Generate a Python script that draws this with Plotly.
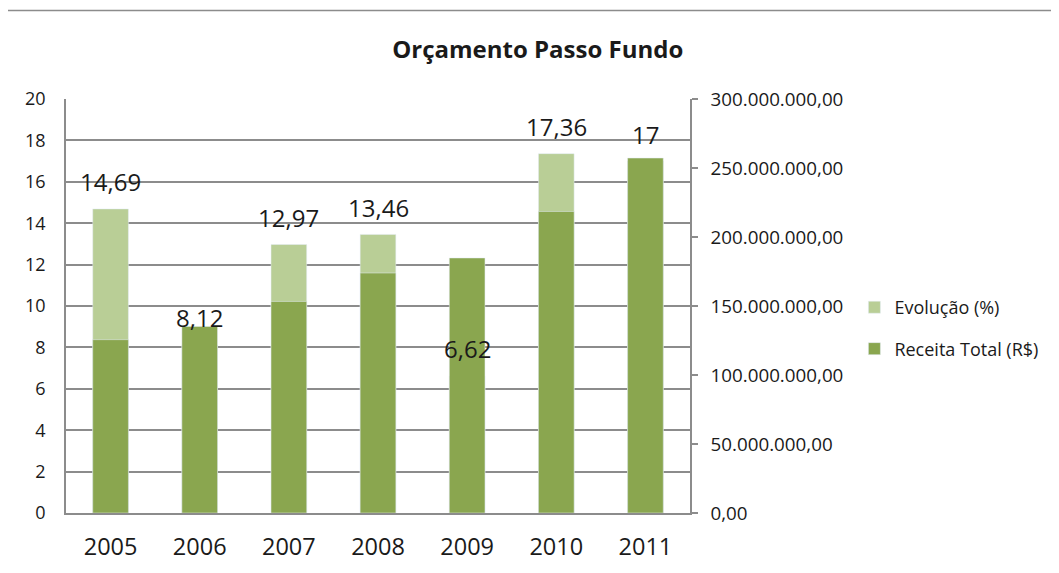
import plotly.graph_objects as go

years = ["2005", "2006", "2007", "2008", "2009", "2010", "2011"]
evolucao = [14.69, 8.12, 12.97, 13.46, 6.62, 17.36, 17]
receita = [125.6e6, 135.2e6, 153.3e6, 173.9e6, 184.8e6, 218.5e6, 257.2e6]

left_ticks = [0, 2, 4, 6, 8, 10, 12, 14, 16, 18, 20]
right_ticks = [0, 50e6, 100e6, 150e6, 200e6, 250e6, 300e6]

DARK = "#8aa64f"
LIGHT = "#b9ce96"
GRID = "#8c8c8c"
FONT = "Open Sans"
TXT = "#1a1a1a"


def fmt_general(v):
    return ("%g" % v).replace(".", ",")


fig = go.Figure()
fig.add_trace(go.Bar(
    x=years, y=evolucao, name="Evolução (%)", marker_color=LIGHT,
    width=0.4, yaxis="y", legendgroup="a",
))
fig.add_trace(go.Bar(
    x=years, y=receita, name="Receita Total (R$)", marker_color=DARK,
    width=0.4, yaxis="y2", legendgroup="b",
))

# data labels of "Evolução (%)" (category axis: annotations use the category index)
for i, v in enumerate(evolucao):
    fig.add_annotation(
        x=i, y=v, xref="x", yref="y", text=fmt_general(v), showarrow=False,
        yanchor="middle", yshift=27, font=dict(family=FONT, size=24, color=TXT),
    )

# outer chart border (extends beyond the right/bottom edge of the picture)
fig.add_shape(type="rect", xref="paper", yref="paper",
              x0=-0.0946, x1=2.0, y0=-1.0, y1=1.214,
              line=dict(color=GRID, width=1.5), layer="below")

W, H = 1043, 557
fig.update_layout(
    width=W, height=H,
    margin=dict(l=58, r=W - 58 - 624, t=91, b=H - 91 - 414, autoexpand=False),
    paper_bgcolor="white", plot_bgcolor="white",
    barmode="overlay",
    separators=",.",
    font=dict(family=FONT, color=TXT),
    title=dict(text="<b>Orçamento Passo Fundo</b>", x=0.756, xref="paper",
               y=1 - 42 / H, yref="container", xanchor="center", yanchor="middle",
               font=dict(family=FONT, size=24, color=TXT)),
    showlegend=True,
    legend=dict(x=0.8115, xref="container", y=0.541, xanchor="left", yanchor="top",
                traceorder="grouped", tracegroupgap=15,
                font=dict(family=FONT, size=18, color=TXT),
                bgcolor="rgba(0,0,0,0)"),
    xaxis=dict(type="category", range=[-0.5, len(years) - 0.5], automargin=False,
               showline=True, linecolor=GRID, linewidth=1.5,
               showgrid=False, ticks="outside", ticklen=12, tickcolor="rgba(0,0,0,0)",
               tickfont=dict(family=FONT, size=23.5, color=TXT)),
    yaxis=dict(range=[0, 20], tickvals=left_ticks, showgrid=True, gridcolor=GRID,
               gridwidth=1.5, showline=True, linecolor=GRID, linewidth=1.5,
               ticks="", zeroline=False, ticklabelstandoff=15, automargin=False,
               tickfont=dict(family=FONT, size=18, color=TXT)),
    yaxis2=dict(range=[0, 300e6], tickvals=right_ticks, tickformat=",.2f",
                overlaying="y", side="right", showgrid=False, zeroline=False,
                showline=True, linecolor=GRID, linewidth=1.5, automargin=False,
                ticks="outside", ticklen=6, tickcolor=GRID, tickwidth=1.5,
                ticklabelstandoff=9,
                tickfont=dict(family=FONT, size=18.8, color=TXT)),
)

fig.write_html("out.html")
